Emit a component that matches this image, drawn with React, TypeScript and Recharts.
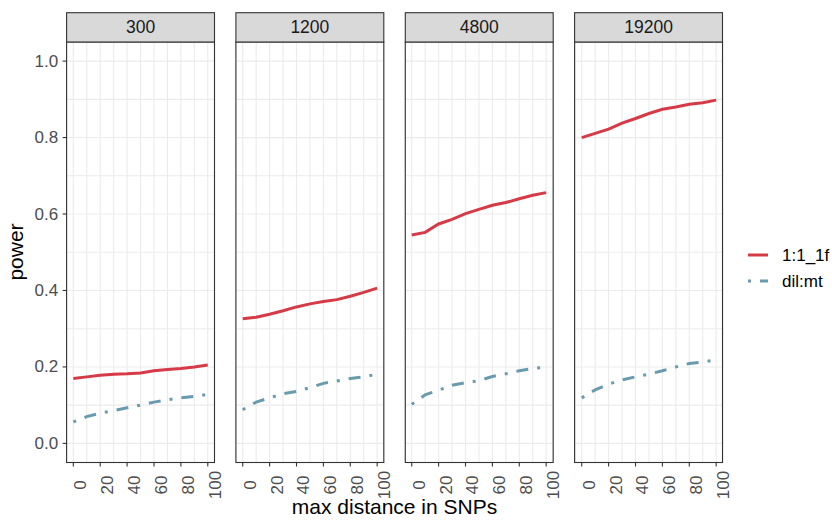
import React from 'react';
import { LineChart, Line, XAxis, YAxis, CartesianGrid } from 'recharts';

// ---------- data ----------
const distances = [0, 10, 20, 30, 40, 50, 60, 70, 80, 90, 100];
const panelLabels = ['300', '1200', '4800', '19200'];
const seriesNames = ['1:1_1f', 'dil:mt'];
const seriesColors = ['#D63A47', '#6A9AAE'];

const red300 = [0.170, 0.174, 0.178, 0.181, 0.182, 0.184, 0.190, 0.193, 0.196, 0.200, 0.205];
const blue300 = [0.056, 0.070, 0.079, 0.086, 0.093, 0.100, 0.108, 0.114, 0.119, 0.123, 0.128];
const red1200 = [0.326, 0.330, 0.338, 0.347, 0.357, 0.365, 0.371, 0.376, 0.385, 0.395, 0.406];
const blue1200 = [0.088, 0.108, 0.119, 0.130, 0.136, 0.146, 0.157, 0.163, 0.170, 0.174, 0.181];
const red4800 = [0.545, 0.552, 0.574, 0.586, 0.601, 0.612, 0.623, 0.630, 0.640, 0.649, 0.656];
const blue4800 = [0.102, 0.127, 0.139, 0.152, 0.159, 0.164, 0.175, 0.182, 0.190, 0.196, 0.199];
const red19200 = [0.800, 0.811, 0.822, 0.838, 0.850, 0.863, 0.874, 0.880, 0.887, 0.891, 0.898];
const blue19200 = [0.119, 0.140, 0.155, 0.166, 0.174, 0.181, 0.190, 0.200, 0.209, 0.213, 0.218];

const redSeries = [red300, red1200, red4800, red19200];
const blueSeries = [blue300, blue1200, blue4800, blue19200];

const xTicks = [0, 10, 20, 30, 40, 50, 60, 70, 80, 90, 100];
const xLabelTicks = [0, 20, 40, 60, 80, 100];
const yTicks = [0, 0.1, 0.2, 0.3, 0.4, 0.5, 0.6, 0.7, 0.8, 0.9, 1.0];
const yLabelTicks = [0, 0.2, 0.4, 0.6, 0.8, 1.0];

// ---------- layout ----------
const FONT = '"Liberation Sans", Arial, Helvetica, sans-serif';
const panelLefts = [66.6, 235.9, 405.3, 574.6];
const panelW = 147.9;
const plotTop = 42;
const plotH = 420.5;
const stripTop = 12.7;
const stripH = 29.3;
const xAxisH = 60;
const tickFont = 17;
const lineW = 3;
const dotDash = '3 9 12 9';

const XTick = (props: any) => {
  const { x, y, payload } = props;
  const v = payload.value;
  if (!xLabelTicks.includes(v)) return <g />;
  const tx = x + 13;
  const ty = y + 22.5;
  return (
    <g>
      <line x1={x} x2={x} y1={y} y2={y + 4} stroke="#333333" strokeWidth={1.1} />
      <text
        x={tx}
        y={ty}
        transform={`rotate(-90, ${tx}, ${ty})`}
        textAnchor="middle"
        fontSize={tickFont}
        fill="#4D4D4D"
        fontFamily={FONT}
      >
        {v}
      </text>
    </g>
  );
};

const YTick = (props: any) => {
  const { x, y, payload } = props;
  const v = payload.value;
  if (!yLabelTicks.some((t) => Math.abs(t - v) < 1e-9)) return <g />;
  return (
    <g>
      <line x1={x - 4} x2={x} y1={y} y2={y} stroke="#333333" strokeWidth={1.1} />
      <text
        x={x - 8.5}
        y={y}
        textAnchor="end"
        dominantBaseline="central"
        fontSize={tickFont}
        fill="#4D4D4D"
        fontFamily={FONT}
      >
        {v.toFixed(1)}
      </text>
    </g>
  );
};

const EmptyTick = () => <g />;

function Panel({ index }: { index: number }) {
  const data = distances.map((d, i) => ({
    d,
    a: redSeries[index][i],
    b: blueSeries[index][i],
  }));
  const first = index === 0;
  const yW = first ? panelLefts[0] : 0;
  const left = first ? 0 : panelLefts[index];
  return (
    <div style={{ position: 'absolute', left, top: plotTop, overflow: 'visible' }}>
      <LineChart
        width={panelW + yW}
        height={plotH + xAxisH}
        data={data}
        margin={{ top: 0, right: 0, bottom: 0, left: 0 }}
        style={{ overflow: 'visible' }}
      >
        <CartesianGrid stroke="#EBEBEB" strokeWidth={1.1} />
        <XAxis
          dataKey="d"
          type="number"
          domain={[-5, 105]}
          ticks={xTicks}
          interval={0}
          height={xAxisH}
          axisLine={false}
          tickLine={false}
          tickSize={0}
          tickMargin={0}
          tick={<XTick />}
        />
        <YAxis
          type="number"
          domain={[-0.05, 1.05]}
          ticks={yTicks}
          interval={0}
          width={yW}
          axisLine={false}
          tickLine={false}
          tickSize={0}
          tickMargin={0}
          tick={first ? <YTick /> : <EmptyTick />}
        />
        <Line
          dataKey="a"
          name={seriesNames[0]}
          type="linear"
          stroke={seriesColors[0]}
          strokeWidth={lineW}
          dot={false}
          isAnimationActive={false}
        />
        <Line
          dataKey="b"
          name={seriesNames[1]}
          type="linear"
          stroke={seriesColors[1]}
          strokeWidth={lineW}
          strokeDasharray={dotDash}
          dot={false}
          isAnimationActive={false}
        />
      </LineChart>
    </div>
  );
}

export default function App() {
  return (
    <div
      style={{
        position: 'absolute',
        left: 0,
        top: 0,
        width: 832,
        height: 522,
        background: '#FFFFFF',
        overflow: 'hidden',
        fontFamily: FONT,
      }}
    >
      <style>{`.recharts-surface, .recharts-wrapper { overflow: visible !important; }`}</style>
      {panelLabels.map((_, i) => (
        <Panel key={i} index={i} />
      ))}
      <svg
        width={832}
        height={522}
        style={{ position: 'absolute', left: 0, top: 0, pointerEvents: 'none' }}
      >
        {panelLabels.map((lab, i) => (
          <g key={lab}>
            <rect
              x={panelLefts[i]}
              y={plotTop}
              width={panelW}
              height={plotH}
              fill="none"
              stroke="#333333"
              strokeWidth={1.1}
            />
            <rect
              x={panelLefts[i]}
              y={stripTop}
              width={panelW}
              height={stripH}
              fill="#D9D9D9"
              stroke="#333333"
              strokeWidth={1.1}
            />
            <text
              x={panelLefts[i] + panelW / 2}
              y={stripTop + stripH / 2}
              textAnchor="middle"
              dominantBaseline="central"
              fontSize={17.5}
              fill="#1A1A1A"
              fontFamily={FONT}
            >
              {lab}
            </text>
          </g>
        ))}
        <text
          x={394.5}
          y={514}
          textAnchor="middle"
          fontSize={21}
          fill="#000000"
          fontFamily={FONT}
        >
          max distance in SNPs
        </text>
        <text
          x={23}
          y={252}
          transform="rotate(-90, 23, 252)"
          textAnchor="middle"
          fontSize={21}
          fill="#000000"
          fontFamily={FONT}
        >
          power
        </text>
        {seriesNames.map((name, i) => (
          <g key={name}>
            <line
              x1={748}
              x2={768}
              y1={255 + i * 26}
              y2={255 + i * 26}
              stroke={seriesColors[i]}
              strokeWidth={lineW}
              strokeDasharray={i === 1 ? dotDash : undefined}
            />
            <text
              x={782}
              y={255 + i * 26}
              dominantBaseline="central"
              fontSize={17}
              fill="#000000"
              fontFamily={FONT}
            >
              {name}
            </text>
          </g>
        ))}
      </svg>
    </div>
  );
}
